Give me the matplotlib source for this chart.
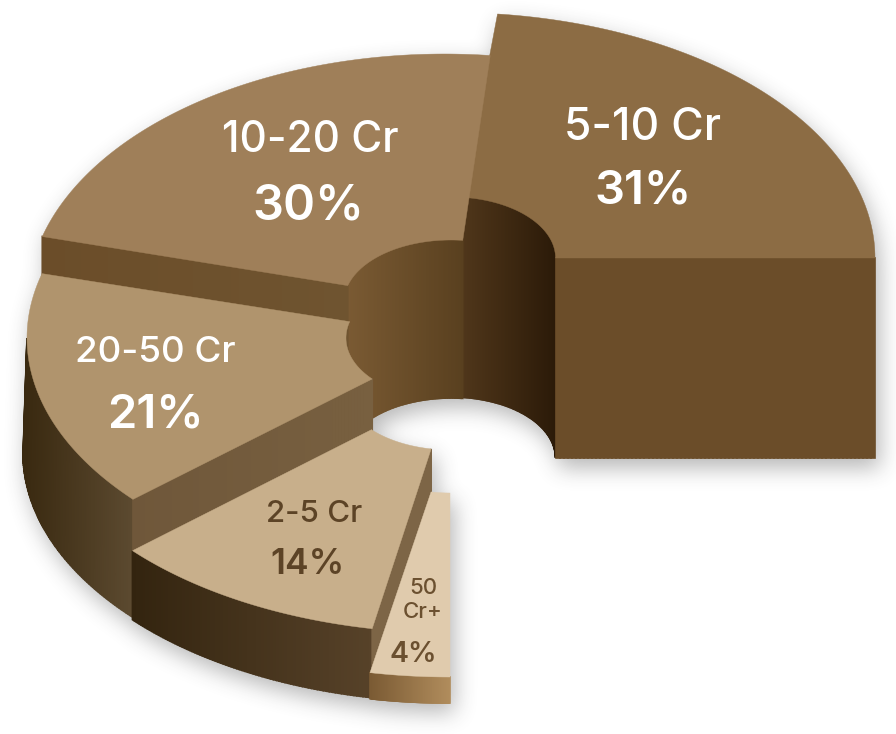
import numpy as np
import matplotlib
matplotlib.use("Agg")
import matplotlib.pyplot as plt
from matplotlib.collections import PolyCollection
from matplotlib.colors import to_rgb

# ---- data ----
categories = ["5-10 Cr", "10-20 Cr", "20-50 Cr", "2-5 Cr", "50\nCr+"]
values = [31, 30, 21, 14, 4]

# ---- style / layout ----
plt.rcParams["font.family"] = ["Inter", "DejaVu Sans"]
W, H = 896, 734
SWEEP = 270.0          # the ring covers three quarters of a turn
cx = [451, 444.5, 451, 452, 450]
cy = [258, 302, 338, 390, 432]
icx = [451.5, 451, 451, 451, 450]
rx = [424, 417, 424, 426, 427]
ry = [245.5, 248, 244, 243, 245]
rix = [104, 107, 105, 106, 101]
riy = [61, 62, 62, 60, 61]
depth = [200, 158, 118, 69, 26]
bulge = [0, 0, 4, 0, 0]
top_col = ["#8c6c44", "#9f7f59", "#b0946d", "#c8af8b", "#e0cbad"]
end_col = [("#6b4d29", "#6b4d29"), ("#6b4d29", "#6f5430"), ("#6f573a", "#786040"),
           ("#7d6546", "#7d6546"), None]
outer_col = [None, None, ("#38280f", "#5c4a30"), ("#33240f", "#574229"), ("#7a5a33", "#b08c5c")]
inner_col = [("#4f361a", "#2b1a08"), ("#7a5a33", "#59401f"), None, None, None]
text_col = ["white", "white", "white", "#5c4326", "#6b5030"]
label_xy = [(643, 128), (310, 141), (155, 353), (314, 514), (423, 600)]
pct_xy = [(643, 192), (308, 207), (155, 416), (308, 564), (413, 655)]
label_fs = [32, 30.5, 26.5, 22.5, 16]
pct_fs = [34, 35, 34, 25.5, 20.5]

fig = plt.figure(figsize=(W / 100, H / 100), dpi=100)
ax = fig.add_axes([0, 0, 1, 1])
ax.set_xlim(0, W)
ax.set_ylim(H, 0)
ax.axis("off")

edges = np.concatenate([[0], np.cumsum(values)]) / np.sum(values) * SWEEP


def arc(i, a0, a1, x_r, y_r, center=None, n=90):
    t = np.radians(np.linspace(a0, a1, n))
    c = cx[i] if center is None else center
    return np.column_stack([c + x_r * np.cos(t), cy[i] - y_r * np.sin(t)])


def mix(c0, c1, f):
    a, b = np.array(to_rgb(c0)), np.array(to_rgb(c1))
    return tuple(a + (b - a) * np.clip(f, 0, 1))


all_polys = []


def strips(upper, lower, cols, z):
    """gradient band made of thin quads, left-to-right colour by x"""
    x = np.r_[upper[:, 0], lower[:, 0]]
    x0, x1 = x.min(), x.max()
    polys, colors = [], []
    for k in range(len(upper) - 1):
        q = [upper[k], upper[k + 1], lower[k + 1], lower[k]]
        polys.append(q)
        colors.append(mix(cols[0], cols[1], ((upper[k, 0] + upper[k + 1, 0]) / 2 - x0) / max(x1 - x0, 1)))
    ax.add_collection(PolyCollection(polys, facecolors=colors, edgecolors=colors, linewidths=1.2,
                                     capstyle="butt", joinstyle="miter", zorder=z))
    all_polys.extend(polys)


for i in range(len(values)):
    a0, a1 = edges[i], edges[i + 1]
    base = 10 + i * 5
    d = depth[i]
    # hole wall (only the back half of the hole can be seen)
    if inner_col[i]:
        u = arc(i, a0, a1, rix[i], riy[i], icx[i])
        strips(u, u + [0, d], inner_col[i], base)
    # outer wall (front half only)
    if outer_col[i]:
        s = max(a0, 180)
        u = arc(i, s, a1, rx[i], ry[i])
        lo = u + [0, d]
        lo[:, 0] -= bulge[i] * np.linspace(1, 0, len(lo))
        strips(u, lo, outer_col[i], base)
    # radial end face
    if end_col[i]:
        ang = a0 if i == 0 else a1
        pi = arc(i, ang, ang, rix[i], riy[i], icx[i], n=1)[0]
        po = arc(i, ang, ang, rx[i], ry[i], n=1)[0]
        u = np.linspace(pi, po, 80) if pi[0] < po[0] else np.linspace(po, pi, 80)
        strips(u, u + [0, d], end_col[i], base + 1)
    # top face
    top = np.vstack([arc(i, a0, a1, rx[i], ry[i]), arc(i, a1, a0, rix[i], riy[i], icx[i])])
    ax.fill(top[:, 0], top[:, 1], color=top_col[i], lw=0.3, zorder=base + 2)
    all_polys.append(top)

for i, cat in enumerate(categories):
    ax.text(*label_xy[i], cat, color=text_col[i], fontsize=label_fs[i], fontweight="medium",
            ha="center", va="center", linespacing=1.25, zorder=60)
    ax.text(*pct_xy[i], f"{values[i]}%", color=text_col[i], fontsize=pct_fs[i], fontweight="semibold",
            ha="center", va="center", zorder=60)

# soft drop shadow made from the same shapes
sf = plt.figure(figsize=(W / 100, H / 100), dpi=100)
sa = sf.add_axes([0, 0, 1, 1])
sa.set_xlim(0, W)
sa.set_ylim(H, 0)
sa.axis("off")
sa.add_collection(PolyCollection([np.asarray(p) for p in all_polys], facecolors="k", edgecolors="k", linewidths=0.5))
sf.canvas.draw()
mask = 1 - np.asarray(sf.canvas.buffer_rgba())[..., 0] / 255.0
plt.close(sf)


def box(a, r, axis):
    k = np.ones(2 * r + 1) / (2 * r + 1)
    return np.apply_along_axis(lambda m: np.convolve(m, k, mode="same"), axis, a)


blur = np.roll(np.roll(mask, 9, axis=0), 4, axis=1)
for _ in range(3):
    blur = box(box(blur, 10, 0), 10, 1)
rgba = np.zeros((H, W, 4))
rgba[..., :3] = 0.25
rgba[..., 3] = blur * 0.38
ax.imshow(rgba, extent=(0, W, H, 0), zorder=1, aspect="auto", interpolation="bilinear")
ax.set_xlim(0, W)
ax.set_ylim(H, 0)

fig.savefig("out.png", dpi=100, facecolor="white")
